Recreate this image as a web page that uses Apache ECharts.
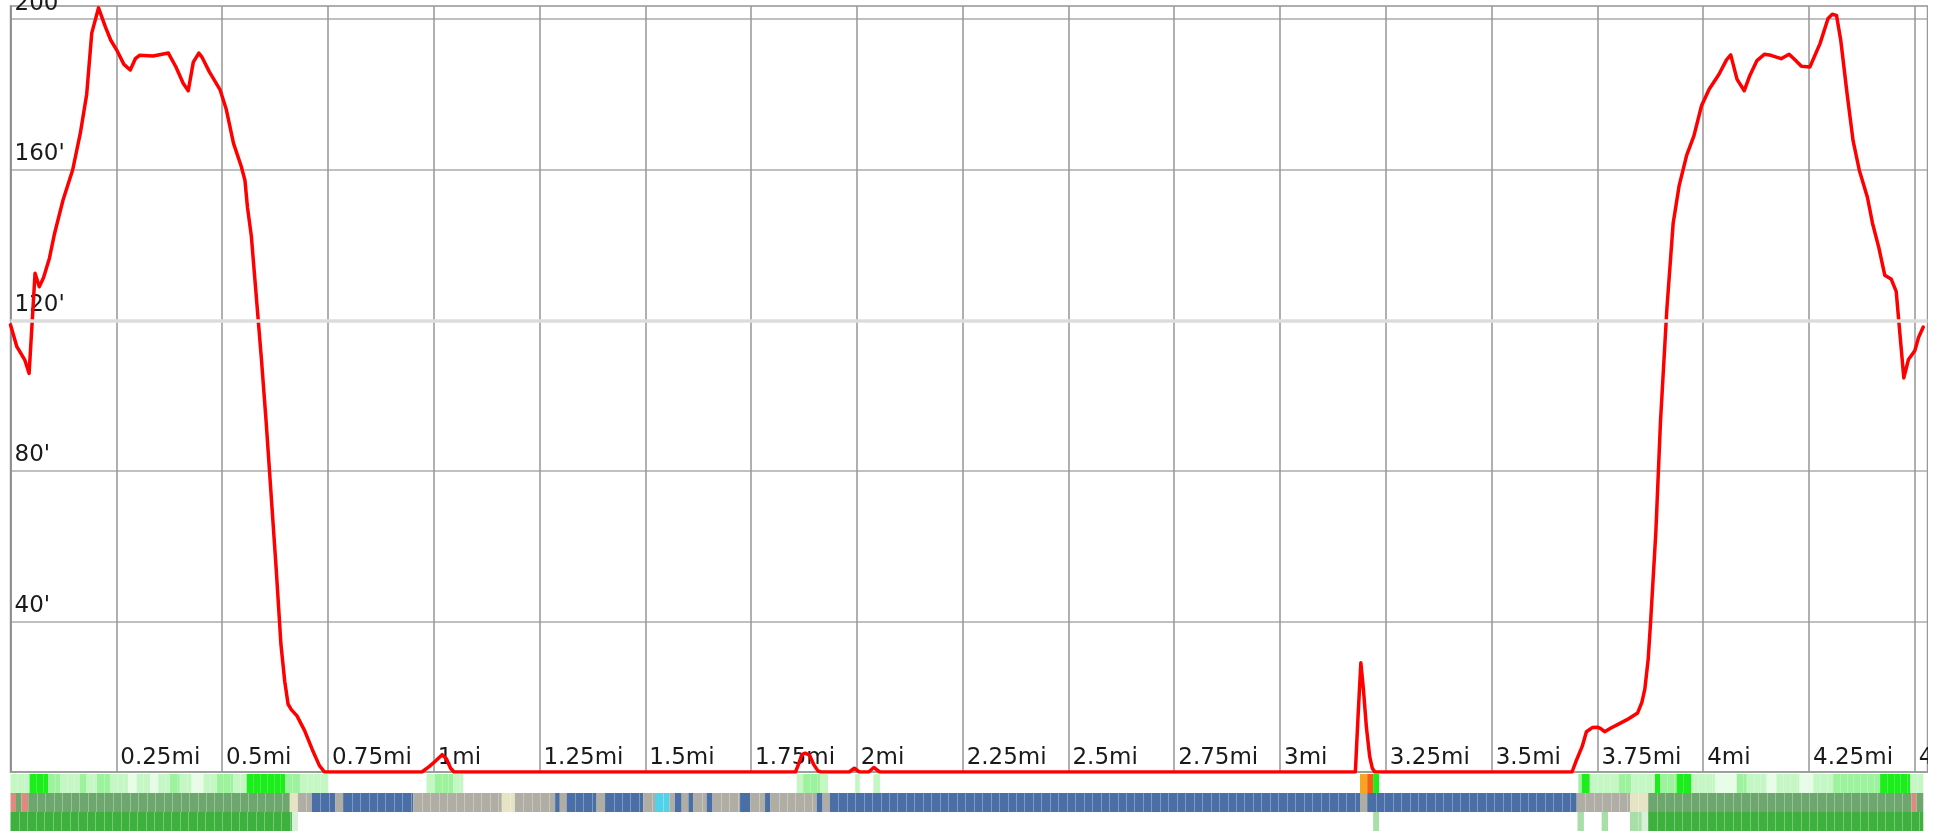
<!DOCTYPE html>
<html>
<head>
<meta charset="utf-8">
<script src="https://cdn.jsdelivr.net/npm/echarts@6/dist/echarts.min.js"></script>
<style>
html,body{margin:0;padding:0;background:#ffffff;}
#chart{width:1928px;height:831px;}
</style>
</head>
<body>
<div id="chart"></div>
<script>
// ---- elevation profile (distance in miles, elevation in feet) ----
const distanceMi = [
  0.000,0.015,0.034,0.044,0.058,0.068,0.078,0.092,0.104,0.124,0.147,0.165,0.180,0.192,0.208,0.224,0.237,0.251,0.268,0.283,
  0.295,0.305,0.337,0.373,0.391,0.408,0.420,0.432,0.445,0.452,0.470,0.495,0.510,0.527,0.545,0.554,0.560,0.569,0.581,0.593,
  0.604,0.616,0.628,0.639,0.648,0.656,0.664,0.677,0.695,0.713,0.730,0.742,0.972,0.990,1.005,1.020,1.030,1.040,1.048,1.855,
  1.862,1.870,1.878,1.888,1.898,1.908,1.915,1.982,1.994,2.006,2.028,2.040,2.054,3.178,3.184,3.191,3.197,3.204,3.212,3.218,
  3.224,3.690,3.700,3.714,3.724,3.738,3.750,3.758,3.767,3.782,3.801,3.820,3.845,3.855,3.862,3.870,3.876,3.888,3.899,3.914,
  3.929,3.943,3.961,3.978,3.996,4.014,4.037,4.055,4.065,4.080,4.097,4.110,4.127,4.145,4.160,4.184,4.203,4.218,4.232,4.252,
  4.276,4.295,4.305,4.315,4.325,4.340,4.354,4.369,4.388,4.400,4.415,4.429,4.444,4.456,4.465,4.474,4.485,4.500,4.509,4.520
];
const elevationFt = [
  118.8,113.0,109.4,105.9,132.5,128.9,131.3,136.5,143.0,151.9,160.0,169.7,180.0,196.3,203.0,198.0,194.4,191.8,188.0,186.5,
  189.5,190.4,190.2,191.0,187.3,183.0,181.0,188.6,191.0,190.0,186.0,181.3,176.0,167.0,161.0,157.2,150.0,142.5,126.1,109.6,
  93.2,73.4,53.7,34.0,24.1,18.0,16.5,14.9,11.0,6.0,1.7,0.0,0.0,1.5,3.0,4.6,3.5,1.0,0.0,0.0,
  2.0,4.6,5.0,4.5,2.0,0.3,0.0,0.0,1.0,0.0,0.0,1.2,0.0,0.0,14.0,29.0,22.0,12.0,4.0,1.0,
  0.0,0.0,3.0,6.8,10.7,11.8,11.9,11.5,10.7,11.7,12.8,13.9,15.7,18.5,22.0,30.0,40.5,63.6,93.0,122.8,
  145.8,155.7,163.9,169.0,177.0,181.4,185.3,189.2,190.5,184.0,181.0,185.0,189.0,190.7,190.4,189.5,190.7,189.1,187.5,187.3,
  193.5,200.2,201.3,201.0,194.4,180.2,167.8,159.8,152.7,145.8,139.3,132.0,131.0,127.7,116.2,104.7,109.6,111.9,115.5,118.2
];

// ---- tick labels ----
const xTickLabels = ["0.25mi","0.5mi","0.75mi","1mi","1.25mi","1.5mi","1.75mi","2mi","2.25mi","2.5mi","2.75mi","3mi","3.25mi","3.5mi","3.75mi","4mi","4.25mi","4.5mi"];
const yTickLabels = ["40'","80'","120'","160'","200'"];
const highlightedLevelFt = [120];

// ---- attribute strips below the profile: [startMi, endMi, class] ----
const row1Runs = [
  [0.000,0.045,'L'],[0.045,0.089,'B'],[0.089,0.117,'M'],[0.117,0.164,'L'],[0.164,0.180,'M'],[0.180,0.204,'L'],
  [0.204,0.235,'M'],[0.235,0.278,'L'],[0.278,0.298,'VL'],[0.298,0.330,'L'],[0.330,0.349,'VL'],[0.349,0.377,'L'],
  [0.377,0.400,'M'],[0.400,0.428,'L'],[0.428,0.456,'VL'],[0.456,0.487,'L'],[0.487,0.526,'M'],[0.526,0.558,'L'],
  [0.558,0.649,'B'],[0.649,0.684,'M'],[0.684,0.751,'L'],
  [0.983,1.003,'L'],[1.003,1.046,'M'],[1.046,1.070,'L'],
  [1.858,1.873,'L'],[1.873,1.913,'M'],[1.913,1.932,'L'],[1.996,2.007,'L'],[2.039,2.055,'L'],
  [3.189,3.206,'O'],[3.206,3.220,'R'],[3.220,3.234,'B'],
  [3.705,3.713,'M'],[3.713,3.732,'B'],[3.732,3.800,'L'],[3.800,3.830,'M'],[3.830,3.886,'L'],[3.886,3.898,'B'],
  [3.898,3.937,'M'],[3.937,3.972,'B'],[3.972,4.028,'L'],[4.028,4.079,'VL'],[4.079,4.103,'M'],[4.103,4.150,'L'],
  [4.150,4.173,'VL'],[4.173,4.228,'L'],[4.228,4.260,'VL'],[4.260,4.307,'L'],[4.307,4.418,'M'],[4.418,4.489,'B'],
  [4.489,4.520,'L']
];
const row2Runs = [
  [0.000,0.013,'pink'],[0.013,0.026,'sage'],[0.026,0.042,'pink'],[0.042,0.660,'sage'],[0.660,0.679,'tan'],
  [0.679,0.712,'grey'],[0.712,0.767,'blue'],[0.767,0.786,'grey'],[0.786,0.952,'blue'],[0.952,1.161,'grey'],
  [1.161,1.192,'tan'],[1.192,1.287,'grey'],[1.287,1.298,'blue'],[1.298,1.314,'grey'],[1.314,1.385,'blue'],
  [1.385,1.405,'grey'],[1.405,1.495,'blue'],[1.495,1.523,'grey'],[1.523,1.557,'cyan'],[1.557,1.570,'grey'],
  [1.570,1.586,'blue'],[1.586,1.602,'grey'],[1.602,1.613,'blue'],[1.613,1.645,'grey'],[1.645,1.659,'blue'],
  [1.659,1.724,'grey'],[1.724,1.748,'blue'],[1.748,1.783,'grey'],[1.783,1.795,'blue'],[1.795,1.905,'grey'],
  [1.905,1.919,'blue'],[1.919,1.936,'grey'],[1.936,3.189,'blue'],[3.189,3.206,'grey'],[3.206,3.701,'blue'],
  [3.701,3.827,'grey'],[3.827,3.870,'tan'],[3.870,4.492,'sage'],[4.492,4.504,'pink'],[4.504,4.520,'sage']
];
const row3Runs = [
  [0.000,0.665,'green'],[0.665,0.679,'paleGreen'],[3.220,3.234,'lightGreen'],[3.703,3.718,'lightGreen'],
  [3.760,3.775,'lightGreen'],[3.827,3.855,'lightGreen'],[3.855,3.870,'paleGreen'],[3.870,4.520,'green']
];

// ---- styles ----
const palette = {
  L:'#c5f7c5', M:'#9df29d', B:'#1cee1c', VL:'#e6fce6', O:'#f6a620', R:'#fb5a14',
  sage:'#6ea76e', pink:'#df8a7f', grey:'#b0ada4', tan:'#e6e4c4', blue:'#4a6ea6', cyan:'#50d2ea',
  green:'#3db03d', lightGreen:'#a8dea8', paleGreen:'#d8f0d8'
};
const X_MAX = 4.53, Y_MAX = 203.5;
const FONT = 'DejaVu Sans';

function stripSeries(runs, row, separators) {
  return {
    type: 'custom', xAxisIndex: 1, yAxisIndex: 1, silent: true, z: 2,
    data: runs.map(r => [r[0], r[1], row]),
    encode: { x: [0, 1], y: 2 },
    renderItem: function (params, api) {
      const run = runs[params.dataIndex];
      const p0 = api.coord([api.value(0), 3 - row]);
      const p1 = api.coord([api.value(1), 2 - row]);
      const children = [{
        type: 'rect',
        shape: { x: p0[0], y: p0[1], width: p1[0] - p0[0], height: p1[1] - p0[1] },
        style: { fill: palette[run[2]] }
      }];
      const cell = api.size([separators ? 0.02 : 0.016, 0])[0];
      const alpha = separators ? 0.3 : 0.22;
      for (let x = p0[0] + cell; x < p1[0] - 2; x += cell) {
        children.push({
          type: 'line',
          shape: { x1: Math.round(x) + 0.5, y1: p0[1], x2: Math.round(x) + 0.5, y2: p1[1] },
          style: { stroke: 'rgba(255,255,255,' + alpha + ')', lineWidth: 1 }
        });
      }
      return { type: 'group', children: children };
    }
  };
}

const chart = echarts.init(document.getElementById('chart'), null, { renderer: 'canvas' });
chart.setOption({
  animation: false,
  backgroundColor: '#ffffff',
  grid: [
    { left: 10.5, right: 0.5, top: 6, height: 766, outerBoundsMode: 'none', containLabel: false,
      show: true, borderColor: '#a0a0a0', borderWidth: 1.5, backgroundColor: 'transparent' },
    { left: 10.5, right: 0.5, top: 774, height: 57, outerBoundsMode: 'none', containLabel: false }
  ],
  xAxis: [
    {
      type: 'value', gridIndex: 0, min: 0, max: X_MAX, interval: 0.25,
      axisLine: { show: true, lineStyle: { color: '#999999', width: 1.5 } },
      axisTick: { show: false },
      splitLine: { show: true, lineStyle: { color: '#969696', width: 1.5 } },
      axisLabel: {
        inside: true, showMinLabel: false, showMaxLabel: false, hideOverlap: false,
        margin: 2, align: 'left', padding: [0, 0, 0, 4],
        color: '#1a1a1a', fontFamily: FONT, fontSize: 23, lineHeight: 23,
        formatter: function (v) {
          const k = v / 0.25, r = Math.round(k);
          if (Math.abs(k - r) > 1e-6) return '';
          return xTickLabels[r - 1] || '';
        }
      }
    },
    { type: 'value', gridIndex: 1, min: 0, max: X_MAX, show: false }
  ],
  yAxis: [
    {
      type: 'value', gridIndex: 0, min: 0, max: Y_MAX, interval: 40,
      axisLine: { show: true, lineStyle: { color: '#8c8c8c', width: 1.5 } },
      axisTick: { show: false },
      splitLine: { show: true, lineStyle: { color: '#ababab', width: 1.5 } },
      axisLabel: {
        inside: true, showMinLabel: false, showMaxLabel: false, hideOverlap: false,
        margin: 4, verticalAlign: 'bottom', padding: [0, 0, 4, 0],
        color: '#1a1a1a', fontFamily: FONT, fontSize: 23, lineHeight: 23,
        formatter: function (v) {
          const k = v / 40, r = Math.round(k);
          if (Math.abs(k - r) > 1e-6) return '';
          return yTickLabels[r - 1] || '';
        }
      }
    },
    { type: 'value', gridIndex: 1, min: 0, max: 3, show: false }
  ],
  series: [
    {
      type: 'line', xAxisIndex: 0, yAxisIndex: 0, data: [], z: 1, silent: true,
      markLine: {
        silent: true, symbol: 'none', label: { show: false },
        lineStyle: { color: '#dcdcdc', width: 3.5, type: 'solid' },
        data: highlightedLevelFt.map(v => ({ yAxis: v }))
      }
    },
    {
      type: 'line', xAxisIndex: 0, yAxisIndex: 0, z: 3,
      data: distanceMi.map((d, i) => [d, elevationFt[i]]),
      showSymbol: false, symbol: 'none', smooth: false, clip: true,
      lineStyle: { color: '#ff0000', width: 3.5, cap: 'round', join: 'round' }
    },
    stripSeries(row1Runs, 0, false),
    stripSeries(row2Runs, 1, true),
    stripSeries(row3Runs, 2, true)
  ]
});
</script>
</body>
</html>
